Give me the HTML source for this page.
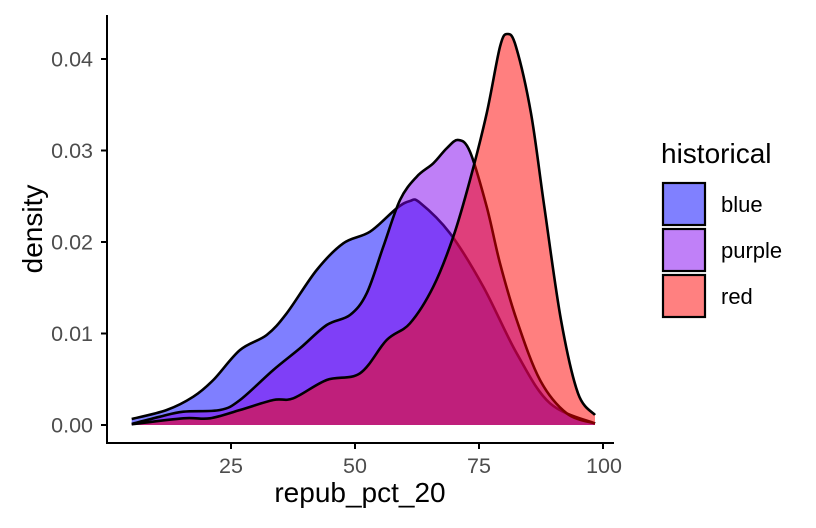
<!DOCTYPE html>
<html><head><meta charset="utf-8"><style>
html,body{margin:0;padding:0;background:#fff;}
svg{display:block;font-family:"Liberation Sans",Arial,sans-serif;}
</style></head><body>
<svg id="s" width="816" height="528" viewBox="0 0 816 528">
<g id="curves"></g>
<g stroke="#000" stroke-width="2">
<line x1="107" y1="15" x2="107" y2="444"/>
<line x1="106" y1="443" x2="614" y2="443"/>
<line x1="101" y1="425" x2="107" y2="425"/>
<line x1="101" y1="333.5" x2="107" y2="333.5"/>
<line x1="101" y1="242" x2="107" y2="242"/>
<line x1="101" y1="150.5" x2="107" y2="150.5"/>
<line x1="101" y1="59" x2="107" y2="59"/>
<line x1="231" y1="443" x2="231" y2="449"/>
<line x1="355" y1="443" x2="355" y2="449"/>
<line x1="479" y1="443" x2="479" y2="449"/>
<line x1="603" y1="443" x2="603" y2="449"/>
</g>
<g fill="#4d4d4d" font-size="21.5" text-anchor="end">
<text x="93" y="432.5">0.00</text>
<text x="93" y="341">0.01</text>
<text x="93" y="249.5">0.02</text>
<text x="93" y="158">0.03</text>
<text x="93" y="66.5">0.04</text>
</g>
<g fill="#4d4d4d" font-size="21.5" text-anchor="middle">
<text x="231" y="473">25</text>
<text x="355" y="473">50</text>
<text x="479" y="473">75</text>
<text x="604" y="473">100</text>
</g>
<text x="360" y="502" font-size="28" text-anchor="middle">repub_pct_20</text>
<text transform="translate(42,229) rotate(-90)" font-size="28" text-anchor="middle">density</text>
<text x="661" y="163" font-size="28">historical</text>
<g stroke="#000" stroke-width="2.2">
<rect x="663" y="183" width="42" height="42" fill="#8080ff"/>
<rect x="663" y="229" width="42" height="42" fill="#c080f8"/>
<rect x="663" y="275" width="42" height="42" fill="#ff8080"/>
</g>
<g font-size="22">
<text x="721" y="212">blue</text>
<text x="721" y="258">purple</text>
<text x="721" y="304">red</text>
</g>
</svg>
<script>
var blue=[[131.7,419],[166.7,410],[193.3,396.7],[213.3,380],[240,350],[266.7,335],[286.7,313.3],[316.7,270],[343.3,243.3],[370,231.7],[396.7,208.3],[410,201],[420,202.7],[450,233.3],[483.3,286.7],[516.7,353.3],[550,403.3],[595,423.5]];
var purple=[[131.7,424],[160,416.7],[183.3,411.7],[220,410],[240,400],[273.3,370],[300,348.3],[326.7,325],[350,315],[366.7,293.3],[383.3,246.7],[400,200],[416.7,176.7],[433.3,163.3],[446.7,148.3],[458.3,140],[470,151.7],[486.7,206.7],[500,263.3],[516.7,320],[540,380],[566.7,413.3],[595,423.5]];
var red=[[131.7,424.3],[183.3,418.3],[210,418.3],[240,410],[273.3,400],[293.3,398.3],[326.7,380],[360,373.3],[386.7,340],[410,323.3],[433.3,286.7],[453.3,236.7],[470,180],[486.7,113.3],[500,46.7],[507.5,34],[516,46.7],[531,113.3],[544.3,206.7],[561,320],[578,393.3],[595,415]];
function cr(p){var d="M"+p[0][0]+","+p[0][1];for(var i=0;i<p.length-1;i++){var p0=p[i-1]||p[i],p1=p[i],p2=p[i+1],p3=p[i+2]||p2;
d+=" C"+(p1[0]+(p2[0]-p0[0])/6)+","+(p1[1]+(p2[1]-p0[1])/6)+" "+(p2[0]-(p3[0]-p1[0])/6)+","+(p2[1]-(p3[1]-p1[1])/6)+" "+p2[0]+","+p2[1];}return d;}
var g=document.getElementById("curves"),ns="http://www.w3.org/2000/svg";
[[blue,"#0000ff"],[purple,"#8000f0"],[red,"#ff0000"]].forEach(function(a){
var p=a[0];var f=document.createElementNS(ns,"path");
f.setAttribute("d",cr(p)+" L"+p[p.length-1][0]+",425 L"+p[0][0]+",425 Z");
f.setAttribute("fill",a[1]);f.setAttribute("fill-opacity","0.5");g.appendChild(f);
var s=document.createElementNS(ns,"path");s.setAttribute("d",cr(p));s.setAttribute("fill","none");
s.setAttribute("stroke","#000");s.setAttribute("stroke-width","2.6");g.appendChild(s);});
</script>
</body></html>
